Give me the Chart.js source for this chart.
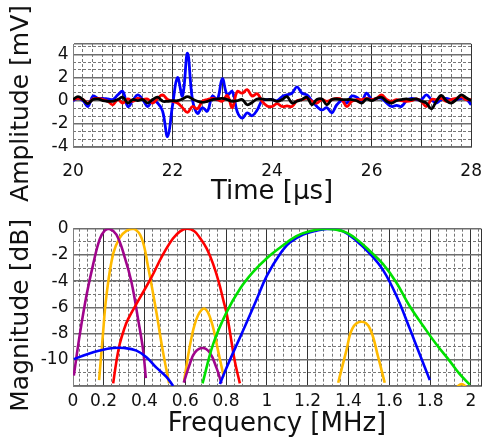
<!DOCTYPE html>
<html>
<head>
<meta charset="utf-8">
<script src="https://cdn.jsdelivr.net/npm/chart.js@4.4.0/dist/chart.umd.min.js"></script>
<style>
  html, body { margin: 0; padding: 0; background: #fff; }
  #top { position: absolute; left: 0; top: 0; width: 496px; height: 214px; }
  #bottom { position: absolute; left: 0; top: 214px; width: 496px; height: 225px; }
</style>
</head>
<body>
<div id="top"><canvas id="timeChart"></canvas></div>
<div id="bottom"><canvas id="freqChart"></canvas></div>
<script>
// ====== Sinal no tempo (µs, mV), amostras a cada 0.1 µs ======
const times = Array.from({ length: 81 }, (_, i) => +(20 + i * 0.1).toFixed(1));
const ampBlue = [
  0, 0.2, 0, -0.5, 0.4, 0.2, 0.2, 0.15, 0.1, 0.5,
  0.8, -0.5, 0, 0.5, 0.1, -0.5, 0, -0.2, -0.9, -3.1,
  -0.4, 2.0, 0.4, 4.1, 0.1, -1.1, -0.6, -0.9, 0.4, 0.1,
  1.9, 0.5, 0.8, -0.95, -1.5, -1.05, -1.3, -0.8, 0, 0.1,
  0.1, 0, 0.35, 0.5, 0.65, 1.2, 0.65, 0.5, 0, -0.5,
  -0.8, -0.6, -1.05, -0.35, 0, -0.2, 0.4, 0.3, 0, 0.65,
  0.1, 0.2, 0.2, -0.2, -0.5, -0.4, -0.5, 0, 0.2, 0.1,
  0.1, 0.5, 0.1, -0.2, 0.1, 0.2, 0.1, 0.1, 0.2, 0.15, -0.35
];
const ampRed = [
  0.1, 0.2, 0.1, -0.2, 0.15, 0.2, 0.1, -0.05, -0.35, 0.1,
  -0.2, 0.15, -0.05, 0.2, 0.1, 0.15, -0.2, 0.2, 0.5, 0.1,
  -0.05, -0.2, -0.6, -1.0, -0.5, -0.7, -0.05, 0.1, 0.2, 0.1,
  -0.05, 0.45, -0.6, 0.8, 0.65, 0.95, 0.4, 0.6, -0.05, -0.45,
  -0.5, -0.25, -0.5, -0.45, -0.5, 0, 0.1, 0.2, -0.05, -0.2,
  0.1, -0.05, 0.1, 0.2, 0.1, -0.5, -0.05, 0.1, 0.1, 0.2,
  0.1, 0.2, 0.5, 0.1, -0.05, 0.1, 0, -0.05, 0, 0.15,
  -0.05, -0.5, 0.1, 0.1, 0.2, -0.05, 0.1, 0.2, 0.35, 0.1, 0.1
];
const ampBlack = [
  0.1, 0.35, 0.1, -0.25, 0.1, 0.15, 0, -0.05, -0.05, 0.1,
  0.3, -0.2, 0.1, 0, 0.1, -0.2, 0.1, 0.3, -0.05, -0.05,
  0, 0, 0.15, 0.35, 0.15, -0.05, -0.15, -0.05, 0.1, 0.15,
  0.2, 0.1, -0.05, 0, 0.1, -0.35, -0.15, 0.15, 0.15, 0.1,
  0.1, -0.05, 0.1, 0.35, -0.2, -0.05, 0.1, 0.3, -0.35, 0.1,
  0.15, -0.35, 0.1, 0.15, 0.1, 0.1, 0.1, 0, -0.2, 0.15,
  0, 0.2, 0.3, -0.05, -0.2, 0, 0.1, 0.15, 0.1, 0.15,
  -0.05, -0.2, -0.7, -0.05, 0.45, 0, -0.2, 0.1, 0.5, 0.25, 0
];
const timeTickLabels = [20, 22, 24, 26, 28];
const ampTickLabels = [-4, -2, 0, 2, 4];

// ====== Espectros (MHz, dB) ======
const purpleF1 = [0.054, 0.083, 0.116, 0.149, 0.181, 0.205, 0.227, 0.263, 0.304, 0.337, 0.369, 0.394, 0.407];
const purpleDb1 = [-11.2, -8.1, -5.1, -2.7, -0.8, -0.15, 0, -0.45, -2.2, -4.1, -6.9, -9.3, -11.4];
const purpleF2 = [0.593, 0.623, 0.647, 0.685, 0.72, 0.753, 0.778];
const purpleDb2 = [-11.75, -10.3, -9.45, -9.1, -9.45, -10.6, -11.8];
const orangeF1 = [0.178, 0.196, 0.214, 0.247, 0.279, 0.313, 0.348, 0.386, 0.418, 0.459, 0.49, 0.521];
const orangeDb1 = [-11.55, -8.2, -5.1, -1.9, -0.7, -0.15, 0, -0.7, -2.9, -6.4, -9.3, -11.8];
const orangeF2 = [0.595, 0.631, 0.663, 0.696, 0.729, 0.761, 0.789];
const orangeDb2 = [-11.55, -8.3, -6.6, -6.1, -7.1, -9.3, -11.3];
const orangeF3 = [1.35, 1.39, 1.42, 1.464, 1.505, 1.546, 1.578];
const orangeDb3 = [-11.75, -9.3, -7.6, -7.1, -7.6, -9.8, -11.75];
const orangeF4 = [1.93, 1.955, 1.98];
const orangeDb4 = [-12.1, -11.85, -12.1];
const redF = [0.247, 0.262, 0.279, 0.30, 0.32, 0.377, 0.435, 0.49, 0.54, 0.575, 0.61, 0.645, 0.672, 0.705, 0.737, 0.765, 0.786, 0.805, 0.819, 0.843, 0.868];
const redDb = [-11.8, -10.2, -8.8, -7.7, -6.9, -5.3, -3.7, -2.0, -0.75, -0.2, 0, -0.2, -0.7, -1.5, -2.7, -4.1, -5.4, -6.6, -7.85, -10.1, -11.8];
const blueF1 = [0.054, 0.116, 0.181, 0.247, 0.30, 0.361, 0.41, 0.459, 0.508, 0.541];
const blueDb1 = [-9.95, -9.6, -9.3, -9.1, -9.1, -9.3, -9.8, -10.6, -11.3, -12];
const blueF2 = [0.77, 0.80, 0.851, 0.90, 0.95, 1.0, 1.064, 1.113, 1.178, 1.243, 1.309, 1.374, 1.44, 1.505, 1.57, 1.635, 1.70, 1.75, 1.799];
const blueDb2 = [-11.85, -10.7, -8.9, -7.2, -5.4, -3.6, -1.95, -1.06, -0.45, -0.15, 0, -0.2, -0.94, -1.9, -3.16, -5.1, -7.6, -9.6, -11.55];
const greenF = [0.685, 0.737, 0.802, 0.868, 0.933, 1.0, 1.064, 1.145, 1.21, 1.292, 1.374, 1.44, 1.505, 1.57, 1.635, 1.70, 1.766, 1.83, 1.897, 1.946, 1.995];
const greenDb = [-11.8, -8.8, -6.4, -4.6, -3.3, -2.25, -1.45, -0.57, -0.2, 0, -0.2, -0.8, -1.7, -2.7, -4.1, -5.9, -7.4, -8.8, -10.1, -11.1, -11.9];
const freqTickLabels = [0.2, 0.4, 0.6, 0.8, 1, 1.2, 1.4, 1.6, 1.8, 2];
const dbTickLabels = [0, -2, -4, -6, -8, -10];

const fMin = 0.05, fMax = 2.05;

Chart.defaults.font.family = "'DejaVu Sans', sans-serif";
Chart.defaults.color = '#111';

// grade menor tracejada (eixo auxiliar sem rótulos)
function minorAxis(axis, min, max, values) {
  return {
    type: 'linear', axis: axis, position: axis === 'x' ? 'bottom' : 'left', min: min, max: max,
    afterBuildTicks: s => { s.ticks = values.map(v => ({ value: v })); },
    afterFit: s => { if (axis === 'x') s.height = 0; else s.width = 0; },
    ticks: { display: false },
    border: { display: false, dash: [3, 2] },
    grid: { color: '#767676', lineWidth: 1, drawTicks: false, z: -2 }
  };
}
function seq(start, end, step) {
  const out = [];
  for (let v = start; v <= end + 1e-9; v += step) out.push(+v.toFixed(4));
  return out;
}
const pts = (xs, ys) => xs.map((x, i) => ({ x: x, y: ys[i] }));
const line = (data, color, width) => ({
  data: data, borderColor: color, borderWidth: width, pointRadius: 0, tension: 0.4, fill: false
});

// ====== Gráfico no tempo ======
// (o primeiro dataset fica por cima)
new Chart(document.getElementById('timeChart'), {
  type: 'line',
  data: {
    datasets: [
      line(pts(times, ampBlack), '#000000', 2.8),
      line(pts(times, ampRed), '#ff0000', 2.8),
      line(pts(times, ampBlue), '#0000ff', 2.8)
    ]
  },
  options: {
    responsive: true, maintainAspectRatio: false, animation: false,
    layout: { padding: { top: 44, right: 15, left: 0, bottom: 0 } },
    plugins: { legend: { display: false }, tooltip: { enabled: false } },
    scales: {
      x: {
        type: 'linear', min: 20, max: 28,
        afterBuildTicks: s => { s.ticks = seq(20, 28, 1).map(v => ({ value: v })); },
        afterFit: s => { s.height = 67; },
        ticks: { autoSkip: false, maxRotation: 0, padding: 14, font: { size: 17 },
          callback: v => timeTickLabels.includes(v) ? String(v) : '' },
        grid: { color: '#333333', lineWidth: 1, drawTicks: false },
        border: { color: '#808080' },
        title: { display: true, text: 'Time [µs]', font: { size: 26 }, padding: { top: 0, bottom: 6.4 } }
      },
      xMinor: minorAxis('x', 20, 28, seq(20, 28, 0.2)),
      y: {
        type: 'linear', min: -4, max: 4.9,
        afterBuildTicks: s => { s.ticks = [-4, -2, 0, 2, 4, 4.9].map(v => ({ value: v })); },
        afterFit: s => { s.width = 73; },
        ticks: { autoSkip: false, padding: 4.5, font: { size: 17 },
          callback: v => ampTickLabels.includes(v) ? String(v) : '' },
        grid: { color: '#6e6e6e', lineWidth: 1.4, drawTicks: false },
        border: { color: '#808080' },
        title: { display: true, text: 'Amplitude [mV]  ', font: { size: 25 }, padding: { top: 6.3, bottom: 0 } }
      },
      yMinor: minorAxis('y', -4, 4.9, seq(-4, 4.9, 2 / 3))
    }
  }
});

// ====== Gráfico em frequência ======
new Chart(document.getElementById('freqChart'), {
  type: 'line',
  data: {
    datasets: [
      line(pts(greenF, greenDb), '#00e000', 2.6),
      line(pts(blueF2, blueDb2), '#0000ff', 2.6),
      line(pts(blueF1, blueDb1), '#0000ff', 2.6),
      line(pts(redF, redDb), '#ff0000', 2.6),
      line(pts(purpleF1, purpleDb1), '#a0058c', 2.6),
      line(pts(purpleF2, purpleDb2), '#a0058c', 2.6),
      line(pts(orangeF1, orangeDb1), '#ffba00', 2.6),
      line(pts(orangeF2, orangeDb2), '#ffba00', 2.6),
      line(pts(orangeF3, orangeDb3), '#ffba00', 2.6),
      line(pts(orangeF4, orangeDb4), '#ffba00', 2.6)
    ]
  },
  options: {
    responsive: true, maintainAspectRatio: false, animation: false,
    layout: { padding: { top: 10, right: 15, left: 0, bottom: 0 } },
    plugins: { legend: { display: false }, tooltip: { enabled: false } },
    scales: {
      x: {
        type: 'linear', min: fMin, max: fMax,
        afterBuildTicks: s => { s.ticks = [fMin].concat(freqTickLabels, [fMax]).map(v => ({ value: v })); },
        afterFit: s => { s.height = 53; },
        ticks: { autoSkip: false, maxRotation: 0, padding: 5.8, font: { size: 17 },
          callback: v => v === fMin ? '0' : (freqTickLabels.includes(v) ? String(v) : '') },
        grid: { color: '#333333', lineWidth: 1, drawTicks: false },
        border: { color: '#808080' },
        title: { display: true, text: 'Frequency [MHz]', font: { size: 26 }, padding: { top: 0, bottom: -0.6 } }
      },
      xMinor: minorAxis('x', fMin, fMax, seq(0.08, 2.04, 0.04)),
      y: {
        type: 'linear', min: -12, max: 0,
        afterBuildTicks: s => { s.ticks = seq(-12, 0, 2).map(v => ({ value: v })); },
        afterFit: s => { s.width = 73; },
        ticks: { autoSkip: false, padding: 4.5, font: { size: 17 },
          callback: v => dbTickLabels.includes(v) ? String(v) : '' },
        grid: { color: '#6e6e6e', lineWidth: 1.4, drawTicks: false },
        border: { color: '#808080' },
        title: { display: true, text: 'Magnitude [dB]  ', font: { size: 25 }, padding: { top: 6, bottom: 0 } }
      },
      yMinor: minorAxis('y', -12, 0, seq(-12, 0, 1))
    }
  }
});
</script>
</body>
</html>
